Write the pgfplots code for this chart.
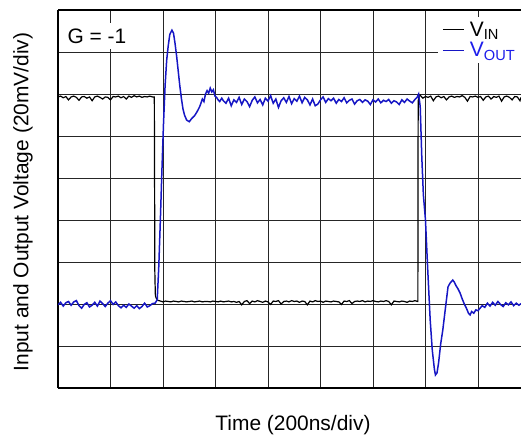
\documentclass[border=0pt]{standalone}
\usepackage{pgfplots}
\pgfplotsset{compat=1.18}
\usepackage{fontspec}
\setmainfont{Liberation Sans}
\definecolor{trace}{RGB}{22,22,196}
\definecolor{vouttxt}{RGB}{30,30,235}
\begin{document}
\begin{tikzpicture}
\begin{axis}[
    name=ax, at={(0,0)}, anchor=south west,
    width=463bp, height=378bp, scale only axis,
    xmin=0, xmax=8.82, ymin=0, ymax=9,
    xtick={0,...,8}, ytick={0,...,9},
    xticklabels={}, yticklabels={},
    major tick length=0pt,
    grid=major,
    major grid style={black!85, line width=0.9bp},
    axis x line=box, axis y line=left,
    axis line style={-, line width=2.6bp, black},
    every outer y axis line/.append style={-},
    legend style={at={(1,1)}, anchor=north east, yshift=-7bp,
        draw=none, fill=white, inner xsep=4bp, inner ysep=3bp,
        font=\fontsize{21}{25}\selectfont, row sep=2bp,
        nodes={inner sep=1.5bp},
        /tikz/every odd column/.append style={column sep=4bp}},
    legend cell align=left,
    legend image code/.code={\draw[#1, line width=1bp] (0bp,0bp) -- (21bp,0bp);},
]
\addplot[black, line width=1.2bp] coordinates {
(0.00,6.93)(0.05,6.95)(0.10,6.91)(0.15,6.94)(0.20,6.86)(0.25,6.93)(0.30,6.95)(0.35,6.92)(0.40,6.85)(0.45,6.93)
(0.50,6.94)(0.55,6.90)(0.60,6.93)(0.65,6.84)(0.70,6.93)(0.75,6.95)(0.80,6.92)(0.85,6.88)(0.90,6.93)(0.95,6.92)
(1.00,6.86)(1.05,6.94)(1.10,6.93)(1.15,6.95)(1.20,6.91)(1.25,6.94)(1.30,6.88)(1.35,6.95)(1.40,6.92)(1.45,6.96)
(1.50,6.93)(1.55,6.95)(1.60,6.92)(1.65,6.94)(1.70,6.93)(1.75,6.95)(1.80,6.93)(1.835,6.93)
(1.845,2.74)(1.85,2.45)(1.855,2.20)(1.87,2.14)(1.90,2.09)(1.95,2.07)(2.00,2.05)(2.05,2.07)(2.10,2.06)(2.15,2.05)
(2.20,2.07)(2.25,2.06)(2.30,2.05)(2.35,2.07)(2.40,2.06)(2.45,2.05)(2.50,2.06)(2.55,2.07)(2.60,2.05)(2.65,2.06)
(2.70,2.07)(2.75,2.05)(2.80,2.06)(2.85,2.06)(2.90,2.05)(2.95,2.07)(3.00,2.06)(3.05,2.05)(3.10,2.07)(3.15,2.05)
(3.20,2.06)(3.25,2.07)(3.30,2.05)(3.35,2.06)(3.40,2.04)(3.45,2.06)(3.50,1.98)(3.55,2.06)(3.60,2.08)(3.65,2.01)
(3.70,2.07)(3.75,2.05)(3.80,2.08)(3.85,2.06)(3.90,2.04)(3.95,2.07)(4.00,2.05)(4.05,1.99)(4.10,2.07)(4.15,2.06)
(4.20,2.08)(4.25,2.00)(4.30,2.06)(4.35,2.07)(4.40,2.05)(4.45,2.08)(4.50,2.06)(4.55,2.07)(4.60,2.04)(4.65,2.07)
(4.70,2.06)(4.75,1.98)(4.80,2.07)(4.85,2.05)(4.90,2.08)(4.95,2.06)(5.00,2.07)(5.05,2.04)(5.10,2.07)(5.15,2.06)
(5.20,2.05)(5.25,2.07)(5.30,2.06)(5.35,2.05)(5.40,1.99)(5.45,2.07)(5.50,2.06)(5.55,2.08)(5.60,2.01)(5.65,2.06)
(5.70,2.07)(5.75,2.06)(5.80,2.08)(5.85,2.05)(5.90,2.07)(5.95,2.06)(6.00,2.08)(6.05,2.06)(6.10,2.05)(6.15,2.07)
(6.20,2.06)(6.25,2.08)(6.30,2.06)(6.35,1.98)(6.40,2.07)(6.45,2.06)(6.50,2.05)(6.55,2.07)(6.60,2.06)(6.65,2.04)
(6.70,2.07)(6.75,2.06)(6.80,2.08)(6.85,2.06)
(6.855,2.06)(6.86,6.30)(6.865,6.93)(6.90,6.97)(6.95,6.90)(7.00,6.94)(7.05,6.92)(7.10,6.95)(7.15,6.84)(7.20,6.93)
(7.25,6.95)(7.30,6.91)(7.35,6.94)(7.40,6.86)(7.45,6.93)(7.50,6.95)(7.55,6.92)(7.60,6.94)(7.65,6.93)(7.70,6.96)
(7.75,6.92)(7.80,6.83)(7.85,6.94)(7.90,6.93)(7.95,6.95)(8.00,6.92)(8.05,6.94)(8.10,6.85)(8.15,6.93)(8.20,6.95)
(8.25,6.88)(8.30,6.94)(8.35,6.92)(8.40,6.95)(8.45,6.83)(8.50,6.93)(8.55,6.95)(8.60,6.92)(8.65,6.86)(8.70,6.94)
(8.75,6.93)(8.80,6.84)(8.82,6.92)
};
\addlegendentry{V\textsubscript{IN}}
\addplot[trace, line width=1.5bp] coordinates {
(0.00,1.98)(0.05,2.04)(0.10,1.95)(0.15,2.03)(0.20,2.06)(0.25,1.97)(0.30,2.05)(0.35,2.08)(0.40,1.96)(0.45,1.90)
(0.50,1.99)(0.55,2.03)(0.60,1.93)(0.65,1.97)(0.70,2.04)(0.75,1.95)(0.80,2.07)(0.85,2.01)(0.90,1.94)(0.95,2.02)
(1.00,2.08)(1.05,1.99)(1.10,2.05)(1.15,1.96)(1.20,1.91)(1.25,1.97)(1.30,1.92)(1.35,2.00)(1.40,1.95)(1.45,1.90)
(1.50,1.96)(1.55,1.89)(1.60,1.94)(1.65,2.02)(1.70,1.93)(1.75,1.96)(1.80,2.01)(1.85,2.02)
(1.89,2.10)(1.92,2.90)(1.95,4.00)(1.98,5.20)(2.01,6.30)(2.04,7.20)(2.07,7.80)(2.10,8.15)(2.13,8.42)(2.17,8.52)
(2.20,8.45)(2.23,8.20)(2.26,7.90)(2.29,7.55)(2.32,7.20)(2.35,6.90)(2.38,6.65)(2.41,6.50)(2.45,6.38)(2.50,6.34)
(2.55,6.42)(2.60,6.48)(2.65,6.58)(2.70,6.70)(2.75,6.88)(2.78,6.82)(2.81,7.00)(2.84,7.08)(2.87,7.02)(2.90,7.14)
(2.93,7.05)(2.96,7.10)(2.99,6.95)(3.02,6.92)(3.05,6.86)(3.08,6.82)(3.12,6.90)
(3.15,6.84)(3.20,6.78)(3.25,6.90)(3.30,6.72)(3.35,6.86)(3.40,6.80)(3.45,6.92)(3.50,6.75)(3.55,6.88)(3.60,6.82)
(3.65,6.70)(3.70,6.85)(3.75,6.93)(3.80,6.79)(3.85,6.87)(3.90,6.74)(3.95,6.90)(4.00,6.83)(4.05,6.96)(4.10,6.78)
(4.15,6.88)(4.20,6.68)(4.25,6.84)(4.30,6.91)(4.35,6.80)(4.40,6.94)(4.45,6.77)(4.50,6.89)(4.55,6.83)(4.60,6.95)
(4.65,6.79)(4.70,6.92)(4.75,6.86)(4.80,6.74)(4.85,6.88)(4.90,6.72)(4.95,6.76)(5.00,6.86)(5.05,6.93)(5.10,6.80)
(5.15,6.89)(5.20,6.84)(5.25,6.90)(5.30,6.78)(5.35,6.87)(5.40,6.82)(5.45,6.91)(5.50,6.79)(5.55,6.85)(5.60,6.88)
(5.65,6.76)(5.70,6.84)(5.75,6.87)(5.80,6.80)(5.85,6.86)(5.90,6.83)(5.95,6.75)(6.00,6.86)(6.05,6.81)(6.10,6.88)
(6.15,6.79)(6.20,6.85)(6.25,6.82)(6.30,6.87)(6.35,6.78)(6.40,6.84)(6.45,6.81)(6.50,6.75)(6.55,6.86)(6.60,6.80)
(6.65,6.88)(6.70,6.83)(6.75,6.79)(6.80,6.87)(6.84,6.92)
(6.87,7.00)(6.90,6.70)(6.93,5.50)(6.96,4.60)(7.00,4.00)(7.04,2.90)(7.09,1.62)(7.13,0.90)(7.17,0.45)(7.19,0.31)
(7.22,0.36)(7.25,0.60)(7.29,1.05)(7.33,1.38)(7.38,1.90)(7.43,2.41)(7.47,2.50)(7.52,2.57)(7.55,2.52)(7.58,2.44)
(7.62,2.36)(7.66,2.26)(7.70,2.12)(7.74,2.00)(7.78,1.90)(7.82,1.78)(7.85,1.74)(7.88,1.82)(7.92,1.78)(7.96,1.86)
(8.00,1.84)(8.04,1.90)
(8.08,1.96)(8.13,1.92)(8.18,2.02)(8.23,1.95)(8.28,2.04)(8.33,1.97)(8.38,2.06)(8.43,1.99)(8.48,1.94)(8.53,2.03)
(8.58,1.98)(8.63,2.05)(8.68,1.96)(8.73,2.02)(8.78,1.97)(8.82,2.01)
};
\addlegendentry{\textcolor{vouttxt}{V\textsubscript{OUT}}}
\end{axis}
\node[fill=white, inner xsep=9bp, inner ysep=6bp, font=\fontsize{21}{25}\selectfont] at (39bp,352bp) {G = -1};
\node[rotate=90, font=\fontsize{21}{25}\selectfont] at (-35bp,186bp) {Input and Output Voltage (20mV/div)};
\node[anchor=base, font=\fontsize{21}{25}\selectfont] at (235bp,-42bp) {Time (200ns/div)};
\pgfresetboundingbox
\path (-58bp,-47bp) rectangle (463bp,388bp);
\end{tikzpicture}
\end{document}
